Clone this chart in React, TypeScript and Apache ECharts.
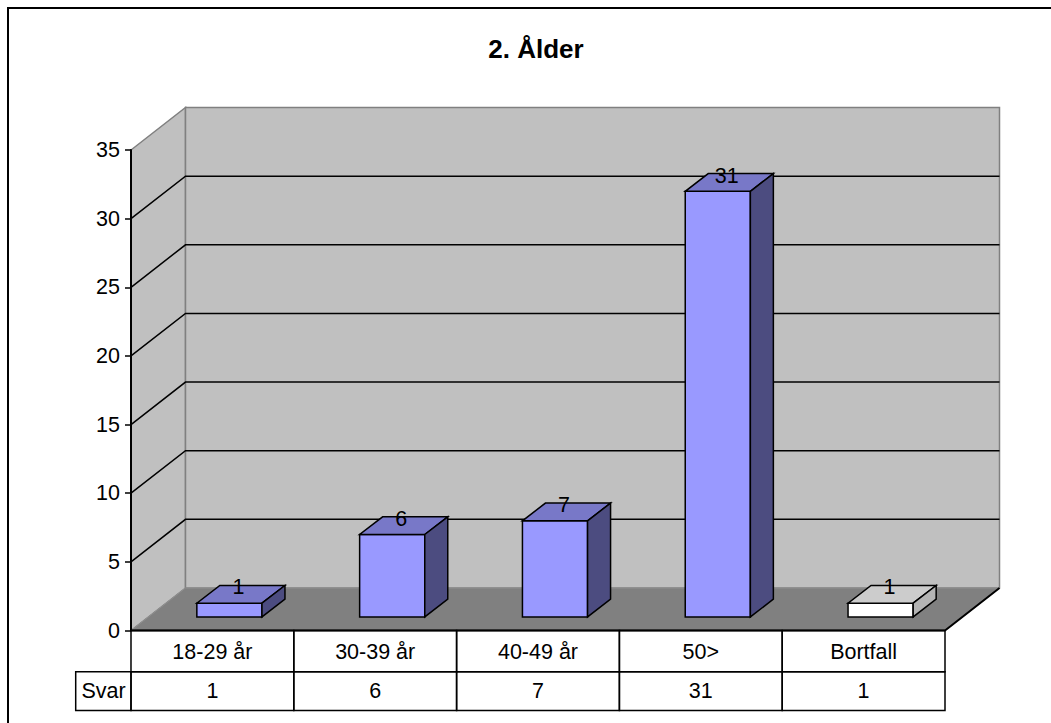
import React, { useEffect, useRef } from "react";
import * as echarts from "echarts";

const TITLE = "2. Ålder";
const CATEGORIES = ["18-29 år", "30-39 år", "40-49 år", "50>", "Bortfall"];
const VALUES = [1, 6, 7, 31, 1];
const SERIES_NAME = "Svar";
const Y_TICKS = [0, 5, 10, 15, 20, 25, 30, 35];

const FONT = "Arial, 'Liberation Sans', sans-serif";
const FS = 21.5;
// depth offsets (px)
const DX = 54.5;
const DY = -42.5;
const FDX = 17;
const FDY = -13.6;
const BDX = 23;
const BDY = -17.7;

export default function App() {
  const ref = useRef<HTMLDivElement>(null);
  useEffect(() => {
    document.body.style.margin = "0";
    const chart = echarts.init(ref.current!, undefined, { renderer: "svg" });
    const wallSeries = {
      type: "custom",
      z: 1,
      silent: true,
      clip: false,
      data: [[0, 0]],
      renderItem: (params: any, api: any) => {
        const cs = params.coordSys;
        const x0 = cs.x;
        const x1 = cs.x + cs.width;
        const yTop = api.coord([0, 35])[1];
        const y0 = api.coord([0, 0])[1];
        return {
          type: "group",
          children: [
            {
              type: "polygon",
              shape: { points: [[x0, yTop], [x0 + DX, yTop + DY], [x0 + DX, y0 + DY], [x0, y0]] },
              style: { fill: "#C0C0C0", stroke: "#808080", lineWidth: 1.5 },
            },
            {
              type: "rect",
              shape: { x: x0 + DX, y: yTop + DY, width: x1 - x0, height: y0 - yTop },
              style: { fill: "#C0C0C0", stroke: "#808080", lineWidth: 1.5 },
            },
          ],
        };
      },
    };
    const gridSeries = {
      type: "custom",
      z: 2,
      silent: true,
      clip: false,
      data: Y_TICKS.filter((t) => t > 0 && t < 35).map((t) => [0, t]),
      renderItem: (params: any, api: any) => {
        const cs = params.coordSys;
        const x0 = cs.x;
        const x1 = cs.x + cs.width;
        const y = api.coord([0, api.value(1)])[1];
        return {
          type: "polyline",
          shape: { points: [[x0, y], [x0 + DX, y + DY], [x1 + DX, y + DY]] },
          style: { stroke: "#000", lineWidth: 1.5, fill: "none" },
        };
      },
    };
    const floorSeries = {
      type: "custom",
      z: 3,
      silent: true,
      clip: false,
      data: [[0, 0]],
      renderItem: (params: any, api: any) => {
        const cs = params.coordSys;
        const x0 = cs.x;
        const x1 = cs.x + cs.width;
        const y0 = api.coord([0, 0])[1];
        return {
          type: "group",
          children: [
            {
              type: "polygon",
              shape: { points: [[x0, y0], [x1, y0], [x1 + DX, y0 + DY], [x0 + DX, y0 + DY]] },
              style: { fill: "#808080", stroke: "#909090", lineWidth: 1 },
            },
            {
              type: "polyline",
              shape: { points: [[x0, y0], [x1, y0], [x1 + DX, y0 + DY]] },
              style: { stroke: "#000", lineWidth: 2, fill: "none" },
            },
          ],
        };
      },
    };
    const barSeries = {
      type: "custom",
      name: SERIES_NAME,
      z: 4,
      clip: false,
      data: VALUES.map((v, i) => [i, v]),
      renderItem: (params: any, api: any) => {
        const i = api.value(0);
        const v = api.value(1);
        const band = api.size([1, 0])[0];
        const cx = api.coord([i, 0])[0];
        const yBase = api.coord([i, 0])[1] + FDY;
        const yTop = api.coord([i, v])[1] + FDY;
        const L = cx - band * 0.2 + FDX;
        const R = cx + band * 0.2 + FDX;
        const last = i === CATEGORIES.length - 1;
        const front = last ? "#FFFFFF" : "#9999FF";
        const top = last ? "#CCCCCC" : "#7878C8";
        const side = last ? "#B4B4B4" : "#4C4C80";
        const st = { stroke: "#000", lineWidth: 1.5 };
        return {
          type: "group",
          children: [
            {
              type: "polygon",
              shape: { points: [[L, yTop], [R, yTop], [R, yBase], [L, yBase]] },
              style: { fill: front, ...st },
            },
            {
              type: "polygon",
              shape: { points: [[L, yTop], [R, yTop], [R + BDX, yTop + BDY], [L + BDX, yTop + BDY]] },
              style: { fill: top, ...st },
            },
            {
              type: "polygon",
              shape: { points: [[R, yTop], [R + BDX, yTop + BDY], [R + BDX, yBase + BDY], [R, yBase]] },
              style: { fill: side, ...st },
            },
            {
              type: "text",
              style: {
                text: String(v),
                x: (L + R) / 2 + 9,
                y: yTop + BDY + 2,
                align: "center",
                verticalAlign: "middle",
                fontSize: FS,
                fontFamily: FONT,
                fill: "#000",
              },
            },
          ],
        };
      },
    };
    const tableSeries = {
      type: "custom",
      z: 5,
      silent: true,
      clip: false,
      data: VALUES.map((v, i) => [i, v]),
      renderItem: (params: any, api: any) => {
        const i = api.value(0);
        const v = api.value(1);
        const band = api.size([1, 0])[0];
        const cx = api.coord([i, 0])[0];
        const y0 = api.coord([i, 0])[1];
        const r1 = y0 + 41.2;
        const r2 = r1 + 38.8;
        const L = cx - band / 2;
        const R = cx + band / 2;
        const line = { stroke: "#000", lineWidth: 1.5, fill: "none" };
        const children: any[] = [
          { type: "rect", shape: { x: L, y: y0, width: R - L, height: r1 - y0 }, style: line },
          { type: "rect", shape: { x: L, y: r1, width: R - L, height: r2 - r1 }, style: line },
          {
            type: "text",
            style: {
              text: CATEGORIES[i], x: cx, y: (y0 + r1) / 2 + 1, align: "center", verticalAlign: "middle",
              fontSize: FS, fontFamily: FONT, fill: "#000",
            },
          },
          {
            type: "text",
            style: {
              text: String(v), x: cx, y: (r1 + r2) / 2, align: "center", verticalAlign: "middle",
              fontSize: FS, fontFamily: FONT, fill: "#000",
            },
          },
        ];
        if (i === 0) {
          children.push(
            { type: "rect", shape: { x: 75.7, y: r1, width: L - 75.7, height: r2 - r1 }, style: line },
            {
              type: "text",
              style: {
                text: SERIES_NAME, x: 81.5, y: (r1 + r2) / 2, align: "left", verticalAlign: "middle",
                fontSize: FS, fontFamily: FONT, fill: "#000",
              },
            }
          );
        }
        return { type: "group", children };
      },
    };
    chart.setOption({
      animation: false,
      grid: { left: 131, top: 150, width: 814, height: 480.5 },
      xAxis: { type: "category", data: CATEGORIES, show: false },
      yAxis: {
        type: "value",
        min: 0,
        max: 35,
        interval: 5,
        z: 10,
        axisLine: { show: true, lineStyle: { color: "#000", width: 2 } },
        axisTick: { show: true, length: 6, lineStyle: { color: "#000", width: 1.5 } },
        axisLabel: { margin: 11, fontSize: FS, fontFamily: FONT, color: "#000" },
        splitLine: { show: false },
        data: Y_TICKS,
      },
      graphic: [
        {
          type: "rect",
          shape: { x: 8, y: 8, width: 1200, height: 900 },
          style: { fill: "none", stroke: "#000", lineWidth: 2 },
          z: 100,
        },
        {
          type: "text",
          x: 536,
          y: 49,
          style: {
            text: TITLE,
            align: "center",
            verticalAlign: "middle",
            fontSize: 26,
            fontWeight: "bold",
            fontFamily: FONT,
            fill: "#000",
          },
        },
      ],
      series: [wallSeries, gridSeries, floorSeries, barSeries, tableSeries],
    });
    return () => chart.dispose();
  }, []);
  return <div ref={ref} style={{ width: 1051, height: 723 }} />;
}
